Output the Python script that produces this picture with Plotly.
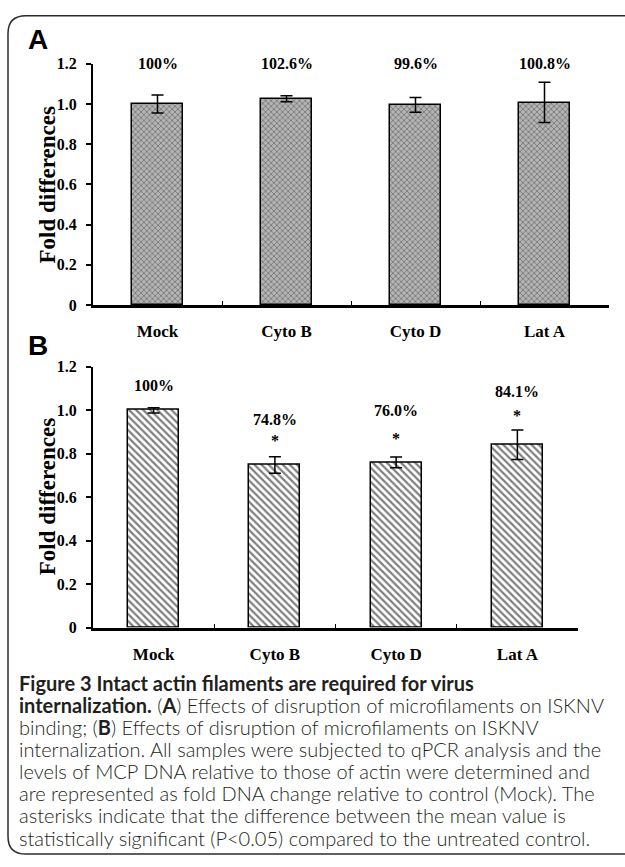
import plotly.graph_objects as go

# ---------------- data ----------------
categories = ["Mock", "Cyto B", "Cyto D", "Lat A"]
y_ticks = [0, 0.2, 0.4, 0.6, 0.8, 1.0, 1.2]
y_tick_text = ["0", "0.2", "0.4", "0.6", "0.8", "1.0", "1.2"]

binding_values = [1.000, 1.026, 0.996, 1.008]
binding_errors = [0.045, 0.015, 0.037, 0.100]
binding_labels = ["100%", "102.6%", "99.6%", "100.8%"]

intern_values = [1.000, 0.748, 0.760, 0.841]
intern_errors = [0.012, 0.038, 0.025, 0.068]
intern_labels = ["100%", "74.8%", "76.0%", "84.1%"]
intern_signif = [False, True, True, True]

caption_lines = [
    "<b>Figure 3 Intact actin filaments are required for virus</b>",
    "<b>internalization.</b> (<b>A</b>) Effects of disruption of microfilaments on ISKNV",
    "binding; (<b>B</b>) Effects of disruption of microfilaments on ISKNV",
    "internalization. All samples were subjected to qPCR analysis and the",
    "levels of MCP DNA relative to those of actin were determined and",
    "are represented as fold DNA change relative to control (Mock). The",
    "asterisks indicate that the difference between the mean value is",
    "statistically significant (P&lt;0.05) compared to the untreated control.",
]

# ---------------- layout helpers ----------------
W, H = 625, 867


def px(x):
    return x / W


def py(y):
    return 1 - y / H


serif = "Liberation Serif"
sans = "Liberation Sans"

fig = go.Figure()

fig.add_trace(go.Bar(
    x=categories, y=binding_values, xaxis="x", yaxis="y", width=0.40,
    marker=dict(color="#b0b0b0", line=dict(color="black", width=1.5),
                pattern=dict(shape="x", fgcolor="#3c3c3c", bgcolor="#b4b4b4", size=4, solidity=0.4)),
    error_y=dict(type="data", array=binding_errors, color="black", thickness=1.5, width=6),
    showlegend=False,
))

fig.add_trace(go.Bar(
    x=categories, y=intern_values, xaxis="x2", yaxis="y2", width=0.42,
    marker=dict(color="white", line=dict(color="black", width=1.5),
                pattern=dict(shape="\\", fgcolor="black", bgcolor="white", size=5, solidity=0.45)),
    error_y=dict(type="data", array=intern_errors, color="black", thickness=1.5, width=6),
    showlegend=False,
))

axis_font = dict(family=serif, size=16, color="black", weight="bold")
cat_font = dict(family=serif, size=17, color="black", weight="bold")

common_y = dict(range=[0, 1.2], tickvals=y_ticks, ticktext=y_tick_text, showline=True,
                linecolor="black", linewidth=2, ticks="outside", ticklen=5, tickwidth=1.5,
                tickcolor="black", tickfont=axis_font, showgrid=False, zeroline=False,
                ticklabelstandoff=6, fixedrange=True)
common_x = dict(type="category", range=[-0.5, 3.5], showline=True, linecolor="black",
                linewidth=2.5, ticks="inside", tickson="boundaries", ticklen=4, tickwidth=1,
                tickcolor="black", tickfont=cat_font, showgrid=False, zeroline=False,
                ticklabelstandoff=9, fixedrange=True)

fig.update_layout(
    width=W, height=H, autosize=False,
    margin=dict(l=0, r=0, t=0, b=0),
    paper_bgcolor="white", plot_bgcolor="rgba(0,0,0,0)",
    bargap=0,
    xaxis=dict(domain=[px(93), px(609)], anchor="y", **common_x),
    yaxis=dict(domain=[py(303), py(57)], anchor="x", **common_y),
    xaxis2=dict(domain=[px(93), px(578)], anchor="y2", **common_x),
    yaxis2=dict(domain=[py(632), py(366)], anchor="x2", **common_y),
)

label_font = dict(family=serif, size=16, color="black", weight="bold")
ann = []
# percent labels panel A
for c, lab in zip(categories, binding_labels):
    ann.append(dict(x=c, y=1.2, xref="x", yref="y", text=lab, showarrow=False,
                    xanchor="center", yanchor="middle", font=label_font))
# percent labels panel B and asterisks
b_label_y = [1.115, 0.958, 0.997, 1.087]
b_star_y = [None, 0.862, 0.869, 0.974]
for c, lab, ly, sy, sig in zip(categories, intern_labels, b_label_y, b_star_y, intern_signif):
    ann.append(dict(x=c, y=ly, xref="x2", yref="y2", text=lab, showarrow=False,
                    xanchor="center", yanchor="middle", font=label_font))
    if sig:
        ann.append(dict(x=c, y=sy, xref="x2", yref="y2", text="*", showarrow=False,
                        xanchor="center", yanchor="middle",
                        font=dict(family=serif, size=16, color="black", weight="bold")))

# axis titles
for yc in (181, 499):
    ann.append(dict(x=px(47), y=py(yc), xref="paper", yref="paper", text="Fold differences",
                    textangle=-90, showarrow=False, xanchor="center", yanchor="middle",
                    font=dict(family=serif, size=23, color="black", weight="bold")))

# panel letters
for letter, yc in (("A", 32), ("B", 344)):
    ann.append(dict(x=px(38), y=py(yc), xref="paper", yref="paper", text=letter,
                    showarrow=False, xanchor="center", yanchor="middle",
                    font=dict(family=sans, size=28, color="black", weight="bold")))

# caption, one annotation per line
for i, line in enumerate(caption_lines):
    ann.append(dict(x=px(17), y=py(688 + 22.6 * i), xref="paper", yref="paper", text=line,
                    showarrow=False, xanchor="left", yanchor="middle", align="left",
                    font=dict(family="Lato", size=20, color="#231f20", weight=300)))

fig.update_layout(annotations=ann)

# outer rounded frame (extends past the right edge)
r = 18
x0, y0, x1, y1 = 8, 8, 660, 863
path = (f"M {px(x1)},{py(y0)} L {px(x0 + r)},{py(y0)} "
        f"Q {px(x0)},{py(y0)} {px(x0)},{py(y0 + r)} "
        f"L {px(x0)},{py(y1 - r)} Q {px(x0)},{py(y1)} {px(x0 + r)},{py(y1)} "
        f"L {px(x1)},{py(y1)}")
fig.add_shape(type="path", path=path, xref="paper", yref="paper",
              line=dict(color="#2b2b2b", width=1.5))

fig.write_html("out.html", config={"displayModeBar": False},
               post_script="document.body.style.margin='0';document.body.style.overflow='hidden';")
